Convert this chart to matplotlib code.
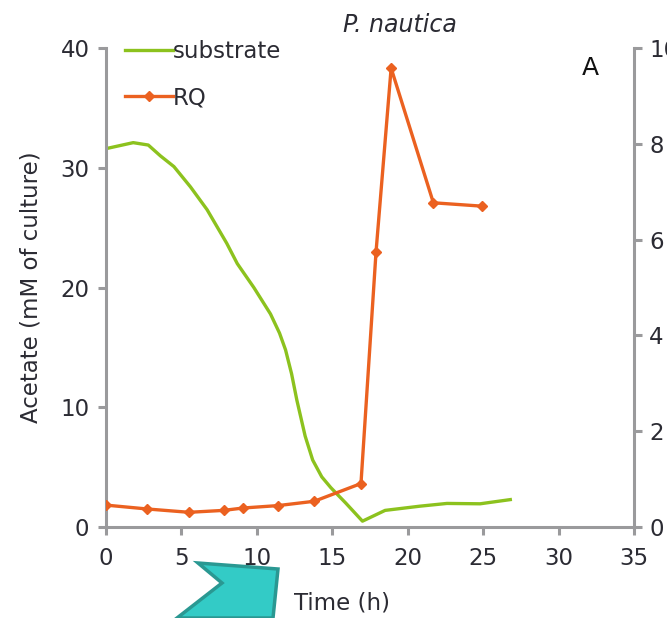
import matplotlib as mpl
mpl.use('Agg')
from matplotlib import pyplot as plt
from matplotlib.patches import Polygon

# substrate (acetate, mM) over time
substrate_time = [0, 1.8, 2.8, 3.6, 4.5, 5.6, 6.7, 8.0, 8.7, 9.8, 10.9, 11.5, 11.9, 12.3, 12.65,
                  13.2, 13.7, 14.3, 14.9, 15.9, 17.0, 18.5, 20.8, 22.6, 24.8, 26.8]
substrate_conc = [31.6, 32.1, 31.9, 31.0, 30.1, 28.4, 26.5, 23.7, 22.0, 20.0, 17.8, 16.2, 14.8, 12.8, 10.6,
                  7.6, 5.6, 4.2, 3.3, 2.0, 0.5, 1.4, 1.75, 1.98, 1.95, 2.3]

# respiratory quotient (right axis)
rq_time = [0, 2.7, 5.5, 7.8, 9.1, 11.4, 13.8, 16.9, 17.9, 18.9, 21.7, 24.9]
rq_value = [0.46, 0.38, 0.31, 0.35, 0.40, 0.45, 0.54, 0.91, 5.75, 9.58, 6.77, 6.70]

x_ticks = [0, 5, 10, 15, 20, 25, 30, 35]
left_ticks = [0, 10, 20, 30, 40]
right_ticks = [0, 2, 4, 6, 8, 10]

green = '#8cc21e'
orange = '#eb6120'
axis_gray = '#9a9a9c'
text_col = '#2b2b33'
fs = 16.5

plt.rcParams['font.family'] = ['DejaVu Sans']

fig = plt.figure(figsize=(6.67, 6.18), dpi=100)
ax = fig.add_axes([0.159, 0.147, 0.7915, 0.7753])
ax2 = ax.twinx()

l1, = ax.plot(substrate_time, substrate_conc, color=green, lw=2.4, label='substrate')
l2, = ax2.plot(rq_time, rq_value, color=orange, lw=2.4, marker='D', ms=5.5,
               label='RQ', zorder=3)

ax.set_xlim(0, 35)
ax.set_ylim(0, 40)
ax2.set_ylim(0, 10)
ax.set_xticks(x_ticks)
ax.set_yticks(left_ticks)
ax2.set_yticks(right_ticks)

for a in (ax, ax2):
  for s in a.spines.values():
    s.set_visible(False)
  a.tick_params(colors=axis_gray, width=2.2, length=6, labelsize=fs, labelcolor=text_col)
ax.spines['left'].set_visible(True)
ax.spines['bottom'].set_visible(True)
ax2.spines['right'].set_visible(True)
for s in (ax.spines['left'], ax.spines['bottom'], ax2.spines['right']):
  s.set_color(axis_gray)
  s.set_linewidth(2.2)
ax.tick_params(axis='y', pad=6)
ax.tick_params(axis='x', pad=8)
ax2.tick_params(axis='y', pad=5)

ax.set_ylabel('Acetate (mM of culture)', fontsize=fs, color=text_col, labelpad=13)
ax.set_xlabel('Time (h)', fontsize=fs, color=text_col)
ax.xaxis.set_label_coords(0.447, -0.135)

ax.legend(handles=[l1, l2], loc='upper left', bbox_to_anchor=(0.01, 1.045), frameon=False,
          fontsize=fs, handlelength=2.1, handletextpad=0.0, labelspacing=1.0,
          labelcolor=text_col, borderaxespad=0.2)

fig.text(0.60, 0.9595, 'P. nautica', style='italic', fontsize=17, color=text_col,
         ha='center', va='center')
fig.text(0.885, 0.89, 'A', fontsize=18, color='#111111', ha='center', va='center')

# teal arrow overlay
arrow_px = [(198, 563), (278, 569), (273, 618), (177, 618), (222, 583)]
arrow = Polygon([(x / 667, 1 - y / 618) for x, y in arrow_px], closed=True,
                transform=fig.transFigure, facecolor='#33cbc6', edgecolor='#2a9892',
                lw=2.5, zorder=10)
fig.patches.append(arrow)

fig.savefig('out.png', dpi=100)
